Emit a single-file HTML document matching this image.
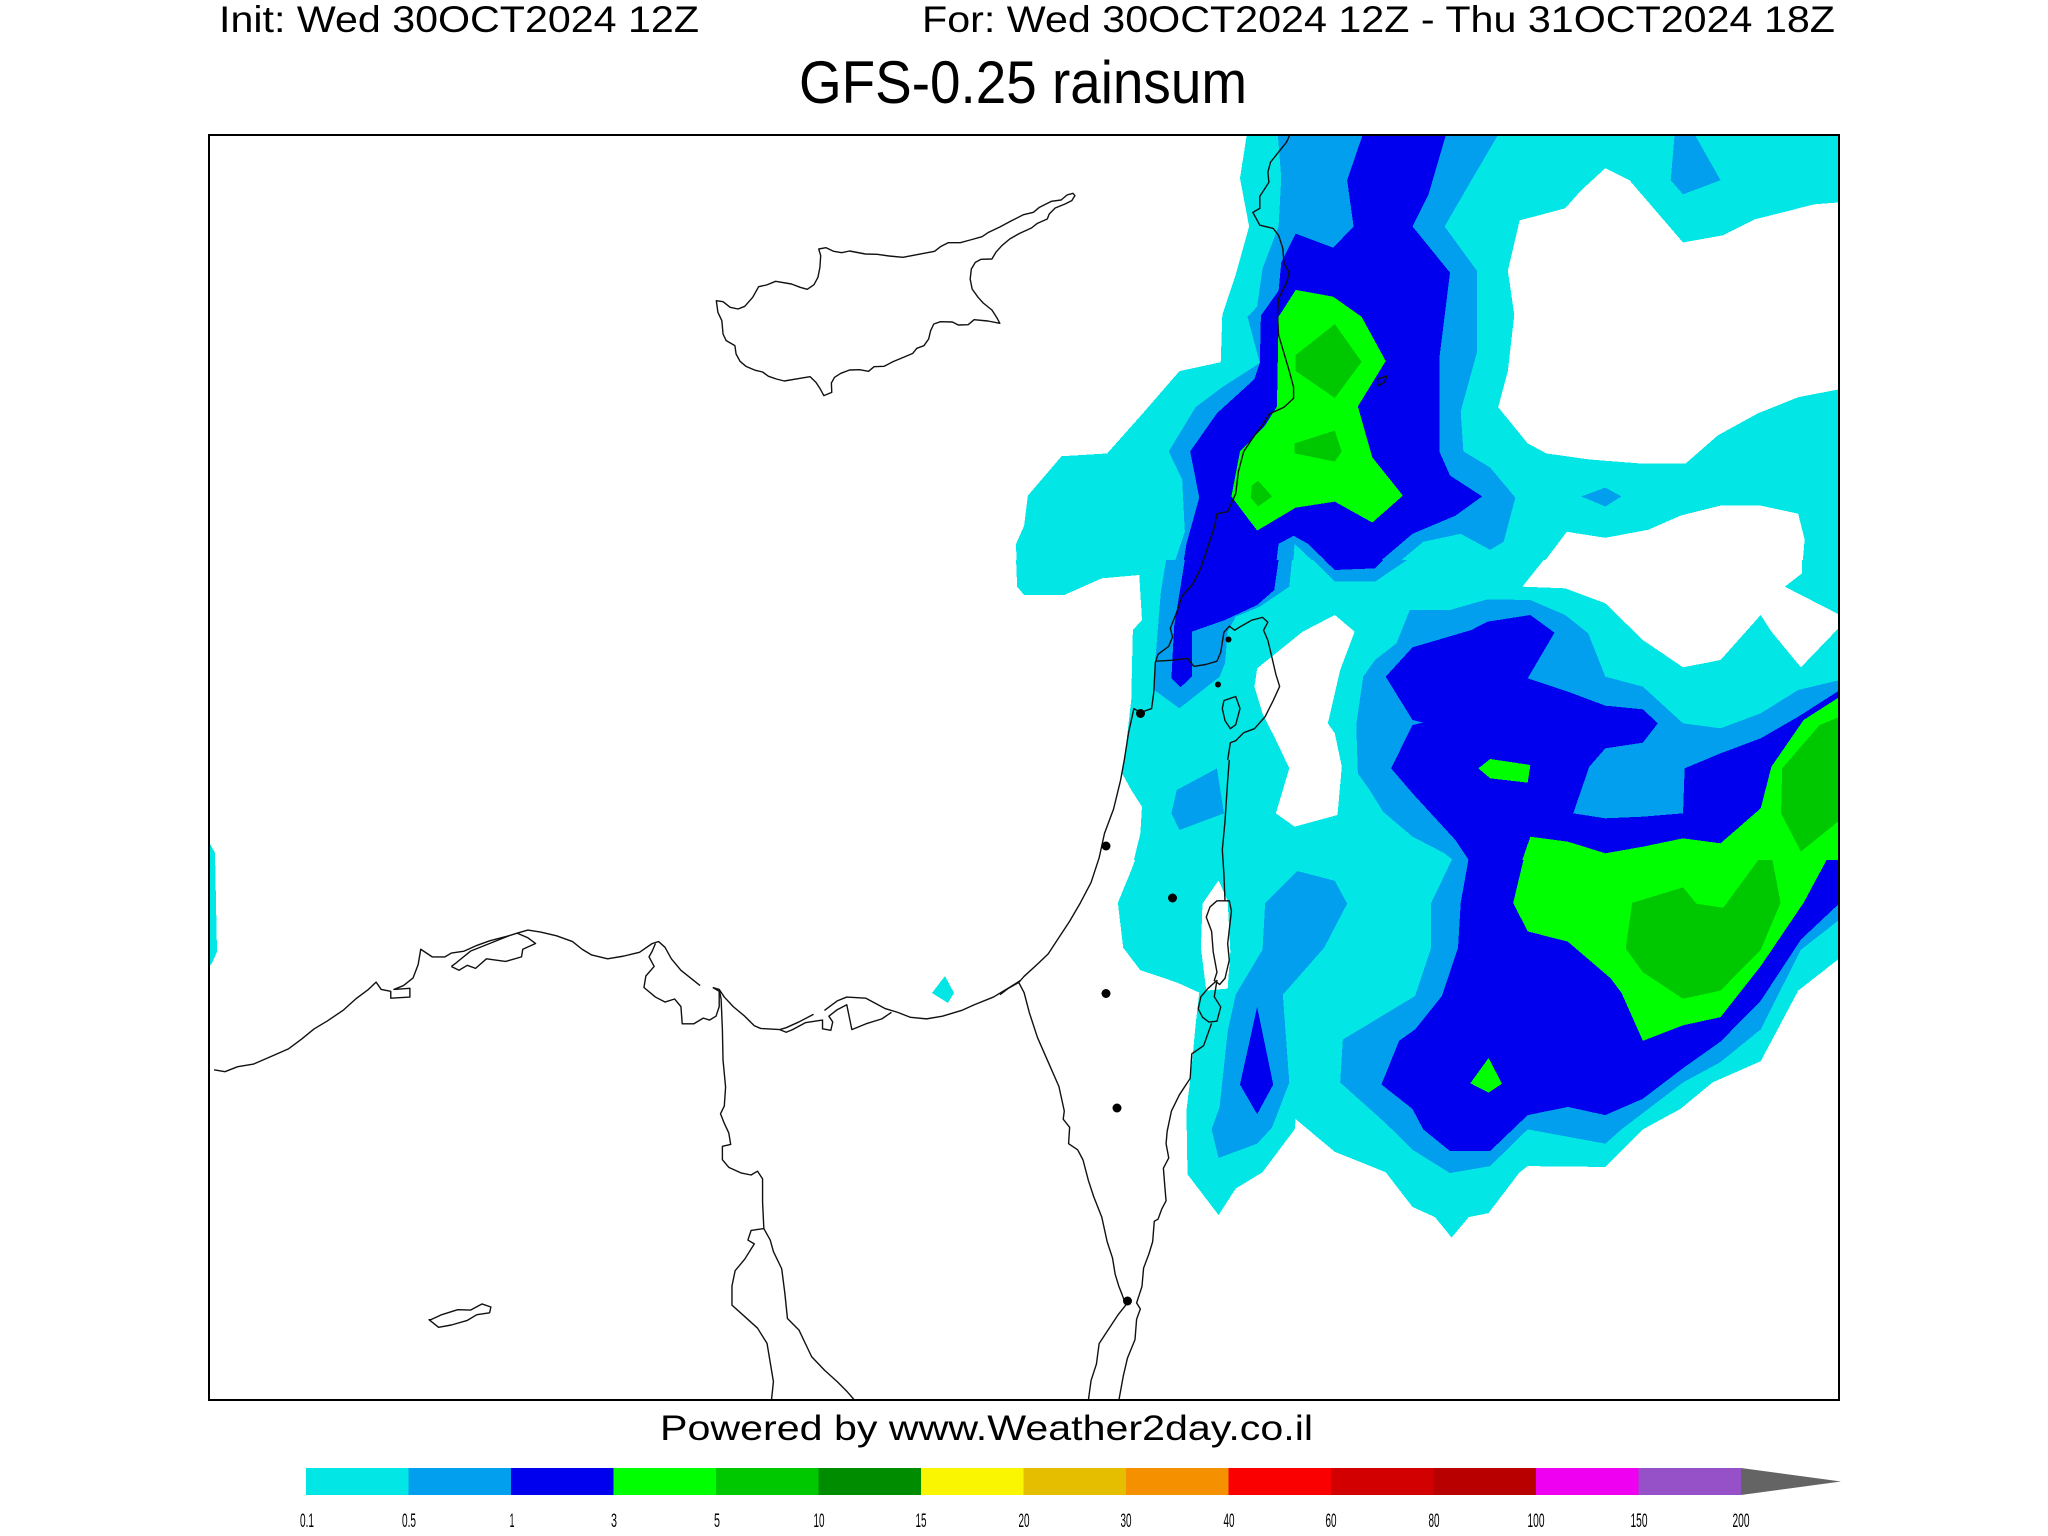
<!DOCTYPE html>
<html><head><meta charset="utf-8"><style>html,body{margin:0;padding:0;background:#fff}svg{display:block}</style></head>
<body>
<svg width="2048" height="1536" viewBox="0 0 2048 1536" xmlns="http://www.w3.org/2000/svg">
<defs>
<clipPath id="map"><rect x="209" y="135" width="1630" height="1265"/></clipPath>
<clipPath id="cz"><rect x="0" y="0" width="1568" height="1568"/></clipPath>
<clipPath id="c7"><rect x="0" y="0" width="1568" height="900"/></clipPath>
</defs>
<rect width="2048" height="1536" fill="#fff"/>
<g font-family="Liberation Sans, Arial, sans-serif" fill="#000">
<text x="219" y="32" font-size="37" textLength="480" lengthAdjust="spacingAndGlyphs">Init: Wed 30OCT2024 12Z</text>
<text x="922" y="32" font-size="37" textLength="913" lengthAdjust="spacingAndGlyphs">For: Wed 30OCT2024 12Z - Thu 31OCT2024 18Z</text>
<text x="799" y="103" font-size="60" textLength="448" lengthAdjust="spacingAndGlyphs">GFS-0.25 rainsum</text>
<text x="660" y="1440" font-size="35" textLength="653" lengthAdjust="spacingAndGlyphs">Powered by www.Weather2day.co.il</text>
</g>
<g clip-path="url(#map)" shape-rendering="crispEdges">
<!-- zoom3 region: x1000-1840 y130-760 -->
<g transform="translate(1000,130) scale(0.535714,0.401786)">
<g clip-path="url(#cz)">
<polygon fill="#02E7E5" points="462,0 448,120 465,240 440,360 415,460 412,578 335,600 270,700 240,745 200,805 115,812 52,910 45,985 30,1030 32,1140 45,1160 120,1160 190,1112 260,1105 265,1240 248,1245 238,1400 230,1568 1568,1568 1568,0"/>
<polygon fill="#fff" points="1130,95 1175,125 1275,280 1350,262 1410,222 1520,185 1568,180 1568,645 1490,665 1415,705 1340,760 1280,830 1195,830 1100,820 1020,805 985,780 930,690 948,600 960,460 948,350 970,225 1055,195 1085,150"/>
<polygon fill="#fff" points="1058,1000 1130,1015 1210,995 1270,960 1345,935 1420,935 1490,955 1502,1020 1497,1095 1465,1137 1530,1185 1568,1210 1568,1240 1530,1270 1490,1335 1445,1270 1420,1210 1370,1285 1345,1318 1275,1335 1200,1270 1130,1180 1060,1140 975,1135 1010,1085"/>
<polygon fill="#fff" points="625,1205 660,1250 633,1340 620,1470 612,1568 530,1568 500,1470 480,1390 475,1340 560,1250"/>
<polygon fill="#029FEF" points="1260,0 1292,0 1345,125 1275,160 1252,125"/>
<polygon fill="#029FEF" points="1085,912 1130,890 1160,912 1130,937"/>
<polygon fill="#029FEF" points="518,0 525,120 520,240 490,345 480,440 462,465 485,580 415,640 365,690 315,800 340,870 345,1000 320,1100 300,1150 288,1250 283,1320 290,1400 335,1440 415,1375 450,1330 500,1290 540,1200 550,1030 625,1125 700,1125 790,1025 860,1005 915,1045 940,1025 962,915 915,840 865,800 860,700 890,555 890,350 830,240 880,125 935,0"/>
<polygon fill="#0000EE" points="680,0 648,125 660,240 622,293 552,258 525,330 520,400 487,462 485,580 475,620 405,705 355,800 372,915 348,1030 335,1140 325,1240 320,1365 337,1390 358,1362 360,1250 420,1225 487,1185 510,1140 520,1030 548,1010 575,1030 625,1095 695,1090 770,1005 850,960 900,912 840,860 820,800 820,570 840,355 770,240 800,160 835,0"/>
<polygon fill="#00FF00" points="552,398 622,415 675,465 720,575 668,688 695,815 752,910 695,977 625,925 552,940 480,997 432,912 448,800 495,735 517,688 520,465"/>
<polygon fill="#00C800" points="625,483 675,577 625,667 552,600 552,560"/>
<polygon fill="#00C800" points="550,780 625,748 638,800 625,825 550,805"/>
<polygon fill="#00C800" points="482,873 508,912 482,937 468,915 470,885"/>
<polygon fill="#029FEF" points="690,1568 668,1470 630,1360 690,1305 765,1195 840,1190 910,1167 990,1175 1060,1210 1100,1250 1130,1360 1200,1385 1275,1475 1380,1475 1490,1395 1568,1375 1568,1568"/>
<polygon fill="#0000EE" points="740,1568 765,1480 790,1475 720,1360 770,1290 880,1245 985,1208 1035,1250 985,1365 1130,1410 1225,1475 1200,1530 1130,1568"/>
<polygon fill="#0000EE" points="1325,1568 1445,1495 1520,1445 1568,1395 1568,1568"/>
<polygon fill="#00FF00" points="1450,1568 1500,1480 1568,1410 1568,1568"/>
<polygon fill="#00C800" points="1480,1568 1530,1500 1568,1470 1568,1568"/>
</g></g>
<!-- zoom4 region: x1000-1840 y760-1400 -->
<g transform="translate(1000,760) scale(0.535714,0.408163)">
<g clip-path="url(#cz)">
<polygon fill="#02E7E5" points="232,0 248,65 262,95 265,200 245,270 220,350 230,460 262,515 330,545 372,570 365,650 358,750 348,860 350,1015 408,1115 440,1050 490,1010 550,905 552,880 625,960 720,1010 770,1095 812,1120 843,1170 875,1120 912,1110 970,1010 985,995 1130,997 1200,905 1270,855 1330,790 1420,738 1490,565 1568,485 1568,0"/>
<polygon fill="#fff" points="540,0 515,130 550,162 625,142 637,0"/>
<polygon fill="#fff" points="378,352 408,295 425,345 430,470 425,560 385,565 375,460"/>
<polygon fill="#029FEF" points="405,18 418,125 335,172 320,130 335,72"/>
<polygon fill="#029FEF" points="555,272 625,296 648,352 605,460 528,575 540,790 508,900 480,940 408,975 395,905 410,850 425,665 440,575 490,465 495,350"/>
<polygon fill="#0000EE" points="480,605 510,795 480,868 448,795"/>
<polygon fill="#029FEF" points="695,0 715,130 845,240 805,350 805,460 775,578 640,685 635,790 720,890 770,955 840,1012 915,995 985,905 1130,940 1160,905 1275,790 1345,740 1420,660 1495,465 1568,390 1568,0"/>
<polygon fill="#0000EE" points="730,0 730,20 770,95 840,180 875,240 860,350 855,460 825,578 775,660 745,688 712,795 770,855 790,905 840,958 915,958 985,870 1060,850 1130,870 1200,830 1275,755 1345,690 1420,590 1495,440 1568,350 1568,0"/>
<polygon fill="#029FEF" points="1110,0 1070,128 1125,145 1275,128 1285,20 1345,0"/>
<polygon fill="#00FF00" points="988,185 1130,230 1275,190 1350,205 1420,125 1440,20 1445,0 1568,0 1568,245 1545,240 1500,350 1420,505 1345,630 1275,650 1200,688 1160,570 1140,535 1060,445 985,420 958,350"/>
<polygon fill="#00C800" points="1462,0 1455,130 1493,225 1568,40 1568,0"/>
<polygon fill="#00C800" points="1180,350 1275,312 1300,352 1350,362 1420,237 1442,245 1457,350 1420,465 1345,565 1275,585 1200,520 1168,462"/>
<polygon fill="#00FF00" points="878,792 912,730 937,793 912,815"/>
</g></g>
<!-- zoom7 band: x1000-1840 y560-860 -->
<g transform="translate(1000,560) scale(0.535714,0.333333)">
<g clip-path="url(#c7)">
<rect x="0" y="0" width="1568" height="900" fill="#fff"/>
<polygon fill="#02E7E5" points="30,0 32,80 45,105 120,105 190,55 260,45 265,180 248,210 245,420 235,560 228,640 245,690 265,740 262,820 250,900 1568,900 1568,0"/>
<polygon fill="#fff" points="1015,0 1497,0 1497,40 1465,80 1568,165 1568,200 1495,322 1440,215 1420,165 1345,300 1275,322 1200,240 1130,130 1055,85 975,80"/>
<polygon fill="#fff" points="625,165 662,215 635,330 612,490 625,520 638,620 630,765 550,800 515,760 540,625 515,540 490,460 475,380 480,325 565,215"/>
<polygon fill="#029FEF" points="310,0 545,0 540,80 485,140 440,170 425,215 420,310 410,350 335,445 288,390 290,300 300,100"/>
<polygon fill="#0000EE" points="345,0 520,0 512,90 480,135 420,180 358,215 358,350 337,382 320,355 325,200 335,100"/>
<polygon fill="#029FEF" points="585,0 760,0 700,65 625,65"/>
<polygon fill="#0000EE" points="605,0 715,0 700,25 625,30"/>
<polygon fill="#029FEF" points="330,690 405,625 418,760 335,810 320,760"/>
<polygon fill="#029FEF" points="765,150 840,150 910,118 990,120 1055,165 1098,220 1130,350 1200,380 1275,490 1345,505 1420,460 1490,390 1568,360 1568,900 845,900 830,880 770,830 715,755 690,690 668,640 665,495 678,350 700,300 740,250"/>
<polygon fill="#0000EE" points="770,262 880,210 910,185 990,165 1035,218 985,355 1060,395 1130,437 1200,448 1228,490 1200,548 1130,565 1100,620 1070,760 1130,775 1200,770 1275,760 1278,625 1345,580 1420,535 1490,470 1568,390 1568,900 875,900 850,840 770,700 730,625 770,495 790,488 770,480 720,350"/>
<polygon fill="#00FF00" points="893,625 915,597 990,615 985,668 915,655"/>
<polygon fill="#00FF00" points="975,900 990,830 1060,845 1130,880 1200,860 1275,835 1345,850 1420,745 1440,620 1500,480 1568,410 1568,900"/>
<polygon fill="#00C800" points="1460,625 1530,495 1568,470 1568,780 1495,875 1458,760"/>
</g></g>
<!-- small cyan patches left -->
<polygon fill="#02E7E5" points="209,842 215,853 217,952 212,963 209,966"/>
<polygon fill="#02E7E5" points="932,993 945,976 954,993 948,1003"/>
</g>
<!-- coastlines -->
<g fill="none" stroke="#111" stroke-width="1.4" stroke-linejoin="round" clip-path="url(#map)">
<g transform="translate(640,134) scale(0.395408,0.333333)">
<polygon vector-effect="non-scaling-stroke" points="193,500 210,503 228,520 248,525 265,517 285,490 300,458 320,453 343,442 383,450 405,460 423,466 440,452 450,430 455,400 457,365 452,345 470,341 490,352 510,356 530,351 570,360 600,361 630,366 665,370 700,362 745,352 760,338 780,326 810,326 835,318 865,308 880,296 910,279 940,260 970,242 995,235 1010,220 1040,202 1065,198 1080,183 1095,178 1100,185 1092,200 1075,210 1050,222 1035,240 1030,255 1005,268 990,282 960,298 935,315 915,335 900,355 890,375 862,376 848,385 838,405 835,435 840,465 855,490 868,507 890,528 902,550 910,568 880,561 845,557 830,572 805,573 790,564 760,563 743,570 735,590 730,615 718,635 700,643 690,658 660,673 640,683 617,697 592,698 578,712 555,707 530,708 508,718 492,730 484,747 485,775 465,785 455,763 445,745 430,728 405,733 365,741 345,735 325,727 310,714 292,709 268,697 253,682 243,660 240,635 218,620 210,600 207,560 197,535"/>
</g>
<g transform="translate(1000,130) scale(0.535714,0.401786)">
<polyline vector-effect="non-scaling-stroke" points="545,0 535,30 520,55 505,80 500,105 502,130 490,155 485,165 485,195 472,205 485,237 510,245 520,262 528,295 530,330 540,355 535,380 520,420 518,460 520,510 530,555 540,600 548,640 548,668 530,690 502,707 492,730 470,770 455,800 445,850 440,905 425,950 405,955 400,990 385,1050 375,1090 360,1130 340,1160 330,1200 318,1240 322,1262 315,1285 295,1305 290,1325 287,1400 283,1440 262,1450 250,1440 240,1500 232,1568"/>
<polyline vector-effect="non-scaling-stroke" points="290,1322 320,1320 350,1315 362,1335 385,1330 405,1322 412,1300 418,1250 428,1235 438,1245 450,1235 470,1220 490,1213 500,1225 492,1245 500,1270 508,1315 515,1355 522,1385 510,1420 495,1460 475,1490 455,1500 440,1520 430,1525 425,1568"/>
<polygon vector-effect="non-scaling-stroke" points="418,1420 440,1410 448,1440 440,1480 430,1490 420,1470 415,1440"/>
<polygon vector-effect="non-scaling-stroke" points="705,620 722,612 718,628 705,637"/>
</g>
<g transform="translate(1000,760) scale(0.535714,0.408163)">
<polyline vector-effect="non-scaling-stroke" points="232,0 225,50 212,120 195,180 185,240 170,300 150,350 130,395 110,435 90,475 70,500 45,530 35,545 15,560 0,575"/>
<polyline vector-effect="non-scaling-stroke" points="35,545 45,570 55,620 70,680 90,740 110,800 120,860 118,880 130,900 128,940 145,955 155,980 165,1030 175,1070 190,1120 200,1180 210,1220 215,1260 222,1290 228,1310 235,1335 220,1360 200,1400 185,1430 180,1480 170,1520 165,1568"/>
<polyline vector-effect="non-scaling-stroke" points="395,645 380,700 358,720 355,780 335,820 320,860 312,910 310,940 315,975 305,1000 308,1050 310,1080 302,1100 295,1125 288,1130 285,1180 278,1210 268,1245 265,1290 260,1310 255,1330 262,1345 255,1370 252,1420 238,1465 230,1510 222,1568"/>
<polyline vector-effect="non-scaling-stroke" points="428,0 425,50 420,150 415,220 418,280 420,345"/>
<polygon vector-effect="non-scaling-stroke" points="405,345 428,345 432,370 425,450 428,490 420,535 410,550 400,540 405,520 398,470 395,420 385,385 392,360"/>
<polygon vector-effect="non-scaling-stroke" points="405,540 388,560 375,580 370,610 378,630 390,642 405,640 412,605 400,580"/>
</g>
<g transform="translate(209,800) scale(0.637755,0.382653)">
<polyline vector-effect="non-scaling-stroke" points="8,705 25,710 45,697 70,690 95,672 125,650 145,625 165,598 185,578 210,550 230,520 250,495 262,476 270,495 285,500 285,518 315,515 315,492 290,495 305,485 320,465 328,430 332,390 350,410 370,410 380,400 400,395 420,380 440,368 470,355"/>
<polyline vector-effect="non-scaling-stroke" points="380,435 392,445 405,432 418,440 435,415 465,422 490,410 492,390 512,375 500,360 483,348 470,355 440,375 410,395 388,425 380,435"/>
<polyline vector-effect="non-scaling-stroke" points="483,348 500,340 520,345 545,355 570,370 585,390 600,405 625,415 650,408 675,398 695,375 705,370 715,385 725,415 740,445 755,465 770,485"/>
<polyline vector-effect="non-scaling-stroke" points="700,375 695,395 690,410 698,435 685,460 682,490 700,515 715,528 730,520 740,540 742,585 760,585 775,570 785,575 795,565 800,540 800,500 790,490"/>
<polyline vector-effect="non-scaling-stroke" points="790,490 800,495 808,515 822,540 840,565 855,590 865,597 895,600 905,595 925,580 948,560"/>
<polyline vector-effect="non-scaling-stroke" points="895,600 905,607 915,600 935,582 950,578 962,575 962,598 975,602 978,580 972,565 985,548 1000,535 1008,600 1030,585 1055,572 1070,555"/>
<polyline vector-effect="non-scaling-stroke" points="965,550 985,525 1000,515 1030,518 1060,545 1080,555 1100,568 1125,572 1150,565 1180,550 1200,535 1230,515 1255,490 1272,472"/>
<polyline vector-effect="non-scaling-stroke" points="800,495 803,520 805,600 806,680 810,750 808,800 802,820 808,845 815,870 818,900 805,905 805,940 815,960 835,975 850,980 860,970 868,990 868,1050 870,1120 850,1125 845,1150 855,1160 840,1200 825,1230 820,1270 820,1320 840,1350 860,1380 875,1420 880,1470 885,1520 882,1568"/>
<polyline vector-effect="non-scaling-stroke" points="870,1120 880,1150 885,1180 898,1225 903,1290 907,1355 925,1385 935,1420 945,1455 965,1490 985,1520 1000,1545 1012,1568"/>
<polygon vector-effect="non-scaling-stroke" points="345,1358 360,1378 380,1372 405,1360 420,1345 440,1340 442,1325 428,1317 410,1333 390,1332 365,1345 348,1358"/>
</g>
</g>
<!-- city dots -->
<g fill="#000">
<circle cx="1140.5" cy="713.5" r="4.5"/>
<circle cx="1228.5" cy="639.5" r="3"/>
<circle cx="1218" cy="684.5" r="3"/>
<circle cx="1106" cy="846" r="4.5"/>
<circle cx="1172.5" cy="898" r="4.5"/>
<circle cx="1106" cy="993.5" r="4.5"/>
<circle cx="1117" cy="1108" r="4.5"/>
<circle cx="1127.5" cy="1301" r="4.5"/>
</g>
<!-- frame -->
<rect x="209" y="135" width="1630" height="1265" fill="none" stroke="#000" stroke-width="2"/>
<!-- colorbar -->
<g shape-rendering="crispEdges">
<rect x="306" y="1468" width="103" height="27" fill="#02E7E5"/>
<rect x="408.5" y="1468" width="103" height="27" fill="#029FEF"/>
<rect x="511" y="1468" width="103" height="27" fill="#0000EE"/>
<rect x="613.5" y="1468" width="103" height="27" fill="#00FF00"/>
<rect x="716" y="1468" width="103" height="27" fill="#00C800"/>
<rect x="818.5" y="1468" width="103" height="27" fill="#008C00"/>
<rect x="921" y="1468" width="103" height="27" fill="#FAF500"/>
<rect x="1023.5" y="1468" width="103" height="27" fill="#E6BE00"/>
<rect x="1126" y="1468" width="103" height="27" fill="#F59100"/>
<rect x="1228.5" y="1468" width="103" height="27" fill="#FA0000"/>
<rect x="1331" y="1468" width="103" height="27" fill="#D20000"/>
<rect x="1433.5" y="1468" width="103" height="27" fill="#B90000"/>
<rect x="1536" y="1468" width="103" height="27" fill="#F000F0"/>
<rect x="1638.5" y="1468" width="102.5" height="27" fill="#9650C8"/>
</g>
<polygon points="1741,1468 1841,1481.5 1741,1495" fill="#646464"/>
<g font-family="Liberation Sans, Arial, sans-serif" font-size="19" fill="#000" text-anchor="middle">
<text x="307" y="1527" textLength="14" lengthAdjust="spacingAndGlyphs">0.1</text>
<text x="409" y="1527" textLength="14" lengthAdjust="spacingAndGlyphs">0.5</text>
<text x="512" y="1527" textLength="5" lengthAdjust="spacingAndGlyphs">1</text>
<text x="614" y="1527" textLength="6" lengthAdjust="spacingAndGlyphs">3</text>
<text x="717" y="1527" textLength="6" lengthAdjust="spacingAndGlyphs">5</text>
<text x="819" y="1527" textLength="11" lengthAdjust="spacingAndGlyphs">10</text>
<text x="921" y="1527" textLength="11" lengthAdjust="spacingAndGlyphs">15</text>
<text x="1024" y="1527" textLength="11" lengthAdjust="spacingAndGlyphs">20</text>
<text x="1126" y="1527" textLength="11" lengthAdjust="spacingAndGlyphs">30</text>
<text x="1229" y="1527" textLength="11" lengthAdjust="spacingAndGlyphs">40</text>
<text x="1331" y="1527" textLength="11" lengthAdjust="spacingAndGlyphs">60</text>
<text x="1434" y="1527" textLength="11" lengthAdjust="spacingAndGlyphs">80</text>
<text x="1536" y="1527" textLength="17" lengthAdjust="spacingAndGlyphs">100</text>
<text x="1639" y="1527" textLength="17" lengthAdjust="spacingAndGlyphs">150</text>
<text x="1741" y="1527" textLength="17" lengthAdjust="spacingAndGlyphs">200</text>
</g>
</svg>
</body></html>
